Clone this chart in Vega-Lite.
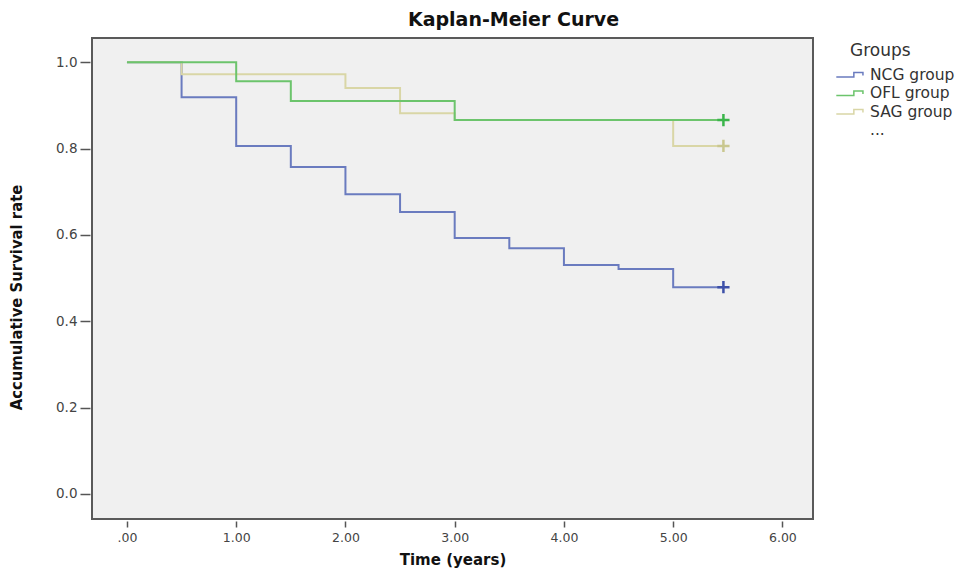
{
  "$schema": "https://vega.github.io/schema/vega-lite/v6.json",
  "width": 721,
  "height": 481,
  "autosize": {"type": "none"},
  "padding": {"left": 92, "top": 38, "right": 152, "bottom": 53},
  "background": "white",
  "title": {
    "text": "Kaplan-Meier Curve",
    "font": "DejaVu Sans",
    "fontSize": 19,
    "fontWeight": "bold",
    "color": "#111111",
    "anchor": "middle",
    "dx": 61,
    "offset": 8
  },
  "config": {
    "view": {"fill": "#f0f0f0", "stroke": "#5a5a5a", "strokeWidth": 2},
    "axis": {
      "grid": false,
      "domain": false,
      "labelFont": "DejaVu Sans",
      "labelFontSize": 12.5,
      "labelColor": "#444444",
      "tickColor": "#555555",
      "tickWidth": 1.5,
      "titleColor": "#111111"
    }
  },
  "datasets": {
    "km": [
      {"group": "NCG group", "time": 0, "surv": 1.0},
      {"group": "NCG group", "time": 0.5, "surv": 0.919},
      {"group": "NCG group", "time": 1.0, "surv": 0.806},
      {"group": "NCG group", "time": 1.5, "surv": 0.757},
      {"group": "NCG group", "time": 2.0, "surv": 0.694},
      {"group": "NCG group", "time": 2.5, "surv": 0.653},
      {"group": "NCG group", "time": 3.0, "surv": 0.593},
      {"group": "NCG group", "time": 3.5, "surv": 0.569},
      {"group": "NCG group", "time": 4.0, "surv": 0.530},
      {"group": "NCG group", "time": 4.5, "surv": 0.521},
      {"group": "NCG group", "time": 5.0, "surv": 0.479},
      {"group": "NCG group", "time": 5.46, "surv": 0.479},
      {"group": "SAG group", "time": 0, "surv": 1.0},
      {"group": "SAG group", "time": 0.5, "surv": 0.972},
      {"group": "SAG group", "time": 2.0, "surv": 0.940},
      {"group": "SAG group", "time": 2.5, "surv": 0.882},
      {"group": "SAG group", "time": 3.0, "surv": 0.866},
      {"group": "SAG group", "time": 5.0, "surv": 0.806},
      {"group": "SAG group", "time": 5.46, "surv": 0.806},
      {"group": "OFL group", "time": 0, "surv": 1.0},
      {"group": "OFL group", "time": 1.0, "surv": 0.956},
      {"group": "OFL group", "time": 1.5, "surv": 0.910},
      {"group": "OFL group", "time": 3.0, "surv": 0.866},
      {"group": "OFL group", "time": 5.46, "surv": 0.866}
    ],
    "censored": [
      {"group": "NCG group", "time": 5.46, "surv": 0.479},
      {"group": "OFL group", "time": 5.46, "surv": 0.866},
      {"group": "SAG group", "time": 5.46, "surv": 0.806}
    ]
  },
  "layer": [
    {
      "data": {"name": "km"},
      "mark": {"type": "line", "interpolate": "step-after", "strokeWidth": 2},
      "encoding": {
        "x": {
          "field": "time",
          "type": "quantitative",
          "scale": {"domain": [-0.32, 6.28], "nice": false, "zero": false},
          "axis": {
            "values": [0, 1, 2, 3, 4, 5, 6],
            "labelExpr": "datum.value == 0 ? '.00' : format(datum.value, '.2f')",
            "title": "Time (years)",
            "titleFont": "DejaVu Sans",
            "titleFontSize": 15,
            "titleFontWeight": "bold",
            "titlePadding": 9,
            "tickSize": 6,
            "offset": 2,
            "labelPadding": 4
          }
        },
        "y": {
          "field": "surv",
          "type": "quantitative",
          "scale": {"domain": [-0.058, 1.056], "nice": false, "zero": false},
          "axis": {
            "values": [0, 0.2, 0.4, 0.6, 0.8, 1.0],
            "format": ".1f",
            "labelFontSize": 13.5,
            "title": "Accumulative Survival rate",
            "titleFont": "DejaVu Sans Condensed",
            "titleFontSize": 16.5,
            "titleFontWeight": "bold",
            "titleAngle": -90,
            "titleX": -74,
            "titleY": 259,
            "titleAlign": "center",
            "titleBaseline": "middle",
            "tickSize": 10,
            "offset": 2,
            "labelPadding": 3
          }
        },
        "color": {
          "field": "group",
          "type": "nominal",
          "scale": {
            "domain": ["NCG group", "OFL group", "SAG group", "..."],
            "range": ["#6a7bbf", "#6cc46c", "#d9d6a6", "transparent"]
          },
          "legend": {
            "title": "Groups",
            "orient": "none",
            "legendX": 758,
            "legendY": 5,
            "titleFont": "DejaVu Sans",
            "titleFontSize": 17,
            "titleFontWeight": "normal",
            "titleColor": "#333333",
            "titleAnchor": "start",
            "titlePadding": 7,
            "labelFont": "DejaVu Sans",
            "labelFontSize": 15.5,
            "labelColor": "#333333",
            "symbolType": "M-3.3,0.35L-0.6,0.35L-0.6,-0.35L0.8,-0.35L0.8,0.1",
            "symbolSize": 169,
            "symbolStrokeWidth": 1.5,
            "rowPadding": 1.5,
            "labelOffset": 4.5
          }
        }
      }
    },
    {
      "data": {"name": "censored"},
      "mark": {
        "type": "point",
        "shape": "M-1,0L1,0M0,-1L0,1",
        "filled": false,
        "size": 150,
        "strokeWidth": 2.5,
        "opacity": 1
      },
      "encoding": {
        "x": {"field": "time", "type": "quantitative"},
        "y": {"field": "surv", "type": "quantitative"},
        "stroke": {
          "field": "group",
          "type": "nominal",
          "scale": {
            "domain": ["NCG group", "OFL group", "SAG group"],
            "range": ["#3d50a8", "#3ab54a", "#c9c78f"]
          },
          "legend": null
        }
      }
    }
  ]
}
